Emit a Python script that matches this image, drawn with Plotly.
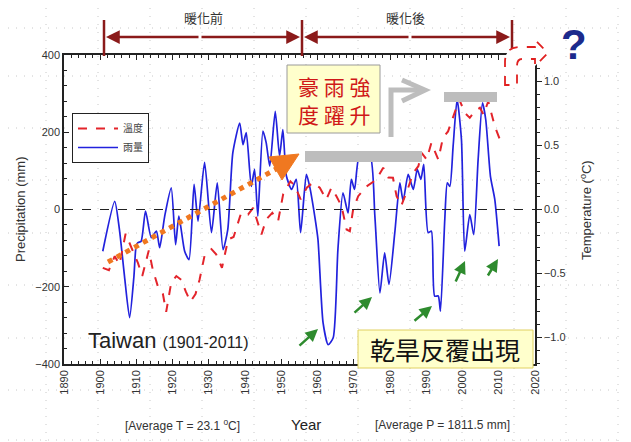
import plotly.graph_objects as go

# ---------------- data ----------------
rain_years = [1900.7, 1904.0, 1905.3, 1906.7, 1908.1, 1909.3, 1909.9, 1910.4, 1911.3, 1912.5,
              1914.1, 1915.5, 1916.4, 1917.8, 1919.6, 1920.8, 1921.7, 1923.3, 1924.5, 1925.9,
              1927.0, 1928.8, 1930.7, 1932.3, 1933.9, 1935.2, 1936.6, 1938.5, 1939.4, 1940.3,
              1941.7, 1942.6, 1943.5, 1944.9, 1945.8, 1946.8, 1948.3, 1949.5, 1950.4, 1951.4,
              1952.8, 1954.1, 1955.3, 1956.9, 1957.8, 1959.2, 1960.1, 1961.5, 1962.9, 1964.3,
              1965.6, 1967.0, 1968.4, 1969.3, 1970.2, 1971.6, 1974.4, 1975.8, 1977.2, 1978.5,
              1979.7, 1981.3, 1982.7, 1983.6, 1985.0, 1986.4, 1987.5, 1988.5, 1989.3, 1990.5,
              1991.4, 1992.3, 1993.3, 1993.9, 1995.1, 1995.8, 1996.5, 1997.4, 1998.5, 1999.7,
              2000.6, 2002.0, 2003.1, 2004.3, 2005.5, 2006.4, 2007.7, 2008.9, 2010.1]
rain_vals = [-108, 21, -52, -173, -280, -173, -95, -86, -82, -4,
             -73, -56, -99, -17, 56, -91, -17, -108, -130, 65,
             -30, 122, -60, 69, -104, -52, 147, 224, 168, 199,
             60, 104, -17, 203, 173, 112, 254, 138, 207, 86,
             52, 78, -60, 91, 60, -17, -78, -293, -350, -332,
             -104, 43, -9, 78, 52, 142, 142, -17, -216, -112,
             -194, -60, 69, 22, 91, 52, 104, 78, 117, -60,
             -56, -224, -224, -263, -26, 69, 60, 164, 285, 181,
             -108, -13, -65, 129, 276, 233, 86, 26, -95]

temp_years = [1900.7, 1902.4, 1904.0, 1905.3, 1907.0, 1908.6, 1910.4, 1911.6, 1913.4, 1914.5,
              1915.9, 1917.3, 1918.2, 1919.6, 1921.0, 1922.4, 1923.6, 1924.9, 1926.3, 1927.4,
              1928.8, 1930.7, 1932.0, 1933.6, 1935.3, 1936.8, 1938.9, 1940.8, 1942.2, 1944.5,
              1945.8, 1947.5, 1949.1, 1950.5, 1952.5, 1953.6, 1955.3, 1957.0, 1958.7, 1960.6,
              1962.4, 1963.8, 1965.2, 1966.6, 1968.0, 1968.9, 1969.8, 1971.2, 1973.5, 1976.2,
              1978.1, 1979.5, 1980.8, 1981.8, 1983.1, 1985.0, 1986.4, 1987.8, 1988.7, 1990.1,
              1991.4, 1993.3, 1994.6, 1996.0, 1997.9, 1999.1, 2000.6, 2002.0, 2003.4, 2004.8,
              2005.8, 2007.1, 2008.9, 2010.3]
temp_vals = [-0.456, -0.474, -0.365, -0.43, -0.19, -0.30, -0.417, -0.52, -0.32, -0.47,
             -0.60, -0.66, -0.80, -0.57, -0.52, -0.55, -0.64, -0.72, -0.66, -0.55,
             -0.36, -0.31, -0.35, -0.456, -0.234, -0.215, -0.026, -0.04, 0.013, -0.195,
             -0.078, -0.026, -0.09, 0.12, 0.22, 0.19, 0.08, 0.17, 0.21, 0.17,
             0.078, 0.17, 0.104, 0.026, -0.156, -0.17, 0.0, 0.104, 0.18, 0.234,
             0.326, 0.25, 0.248, 0.104, 0.03, 0.17, 0.287, 0.338, 0.443, 0.39,
             0.52, 0.39, 0.56, 0.61, 0.755, 0.86, 0.755, 0.716, 0.768, 0.795,
             0.74, 0.846, 0.65, 0.547]

x_ticks = list(range(1890, 2021, 10))
left_ticks = [-400, -200, 0, 200, 400]
right_ticks = [-1.0, -0.5, 0.0, 0.5, 1.0]

# ---------------- layout helpers (reference-pixel coordinates) ----------------
W, H = 631, 442
OFF = 8                      # page body margin
L, R, T, B = 64, 535, 55, 364


def px(x):
    return (x - L) / (R - L)


def py(y):
    return (B - y) / (B - T)


def p(x, y):
    return f"{px(x):.5f},{py(y):.5f}"


CJK = "Noto Sans CJK TC"
LAT = "Liberation Sans, Arial, sans-serif"

fig = go.Figure()
fig.add_trace(go.Scatter(x=temp_years, y=temp_vals, yaxis="y2", name="溫度", mode="lines",
                         line=dict(color="#E3242B", width=2, dash="dash")))
fig.add_trace(go.Scatter(x=rain_years, y=rain_vals, name="雨量", mode="lines",
                         line=dict(color="#2222DD", width=1.7, shape="spline", smoothing=0.6)))

shapes = []
ann = []


def text(x, y, s, size, color="#333333", family=LAT, **kw):
    d = dict(xref="paper", yref="paper", x=px(x), y=py(y), text=s, showarrow=False,
             xanchor="center", yanchor="middle", font=dict(family=family, size=size, color=color))
    d.update(kw)
    ann.append(d)


# background dotted slide grid
for gy in [28, 76, 128, 180, 233, 285, 338, 390, 440]:
    shapes.append(dict(type="line", xref="paper", yref="paper", x0=px(OFF), x1=px(W), y0=py(gy), y1=py(gy),
                       line=dict(color="#C8C8C8", width=1, dash="1px,7px"), layer="below"))
for gx in [46, 98, 150, 202, 254, 306, 358, 410, 462, 514, 566, 618]:
    shapes.append(dict(type="line", xref="paper", yref="paper", x0=px(gx), x1=px(gx), y0=py(OFF), y1=py(H),
                       line=dict(color="#C8C8C8", width=1, dash="1px,7px"), layer="below"))

# zero dashed line
shapes.append(dict(type="line", xref="paper", yref="y", x0=0, x1=1, y0=0, y1=0,
                   line=dict(color="#222222", width=1.2, dash="dash")))

# top double arrows
DR = "#8B1A1A"
for bx in [104, 302, 512]:
    shapes.append(dict(type="line", xref="paper", yref="paper", x0=px(bx), x1=px(bx), y0=py(20), y1=py(56),
                       line=dict(color=DR, width=2.5)))
for (tip, tail) in [(106, 200), (300, 200), (304, 410), (510, 410)]:
    ann.append(dict(xref="paper", yref="paper", x=px(tip), y=py(37), ax=tail - tip, ay=0, text="",
                    showarrow=True, arrowhead=2, arrowsize=1.1, arrowwidth=2.5, arrowcolor=DR))
text(203, 18, "暖化前", 13, family=CJK)
text(405, 18, "暖化後", 13, family=CJK)

# red dashed bent arrow (top right)
path = (f"M {p(505,85)} L {p(505,62)} Q {p(505,47)} {p(520,47)} L {p(535,47)} L {p(535,40)} "
        f"L {p(548,53)} L {p(535,66)} L {p(535,59)} L {p(522,59)} Q {p(517,59)} {p(517,66)} L {p(517,85)} Z")
shapes.append(dict(type="path", xref="paper", yref="paper", path=path, fillcolor="white",
                   line=dict(color="#E02020", width=1.8, dash="dash")))
text(574, 45, "<b>?</b>", 42, color="#1C2A8C")

# gray bars and gray L arrow
shapes.append(dict(type="rect", xref="paper", yref="paper", x0=px(305), x1=px(422), y0=py(151), y1=py(162),
                   fillcolor="#BDBDBD", line=dict(width=0)))
shapes.append(dict(type="rect", xref="paper", yref="paper", x0=px(444), x1=px(497), y0=py(92), y1=py(102),
                   fillcolor="#BDBDBD", line=dict(width=0)))
shapes.append(dict(type="path", xref="paper", yref="paper",
                   path=f"M {p(391,137)} L {p(391,90)} L {p(424,90)}",
                   line=dict(color="#BDBDBD", width=5)))
shapes.append(dict(type="path", xref="paper", yref="paper",
                   path=f"M {p(402,80)} L {p(425,90)} L {p(402,101)}",
                   line=dict(color="#BDBDBD", width=5)))

# orange dotted arrow
shapes.append(dict(type="line", xref="paper", yref="paper", x0=px(108), y0=py(262), x1=px(278), y1=py(168),
                   line=dict(color="#F07820", width=5, dash="dot")))
shapes.append(dict(type="path", xref="paper", yref="paper",
                   path=f"M {p(299,154)} L {p(269,157)} L {p(282,180)} Z",
                   fillcolor="#F07820", line=dict(color="#F07820", width=1)))

# green arrows
for (x0, y0, x1, y1) in [(298, 347, 318, 329), (353, 314, 372, 297), (413, 322, 432, 306),
                         (455, 283, 465, 261), (487, 277, 498, 259)]:
    ann.append(dict(xref="paper", yref="paper", x=px(x1), y=py(y1), ax=x0 - x1, ay=y0 - y1, text="",
                    showarrow=True, arrowhead=2, arrowsize=1, arrowwidth=2.5, arrowcolor="#2E8B2E"))

# yellow boxes
shapes.append(dict(type="rect", xref="paper", yref="paper", x0=px(287), x1=px(380), y0=py(65), y1=py(133),
                   fillcolor="#FFFFCC", line=dict(color="#9A9A9A", width=1)))
text(334, 86, "豪 雨 強", 21, color="#D01818", family=CJK)
text(334, 114, "度 躍 升", 21, color="#D01818", family=CJK)
shapes.append(dict(type="rect", xref="paper", yref="paper", x0=px(358), x1=px(533), y0=py(330), y1=py(368),
                   fillcolor="#FFFFCC", line=dict(color="#E0D060", width=1)))
text(445, 349, "乾旱反覆出現", 25, color="#111111", family=CJK)

# texts
text(86, 340, "Taiwan <span style='font-size:16px'>(1901-2011)</span>", 22, color="#222222", xanchor="left")
text(182, 425, "[Average T = 23.1 <sup>o</sup>C]", 12)
text(306, 424, "Year", 15, color="#222222")
text(442, 425, "[Average P = 1811.5 mm]", 12)
text(21, 210, "Precipitation (mm)", 13, textangle=-90)
text(586, 210, "Temperature (<sup>o</sup>C)", 13, textangle=-90)

fig.update_layout(
    width=W - OFF, height=H - OFF,
    margin=dict(l=L - OFF, r=W - R, t=T - OFF, b=H - B, autoexpand=False),
    paper_bgcolor="white", plot_bgcolor="rgba(0,0,0,0)",
    font=dict(family=LAT, size=11, color="#333333"),
    showlegend=True,
    legend=dict(x=px(72), y=py(113), xanchor="left", yanchor="top", bgcolor="white",
                bordercolor="#222222", borderwidth=1, font=dict(family=CJK, size=10, color="#444444"),
                itemwidth=40, tracegroupgap=0),
    xaxis=dict(range=[1890, 2020], tickvals=x_ticks, tickangle=-90, ticks="inside", ticklen=5,
               tickcolor="#222222", showline=True, linecolor="#222222", linewidth=1.5, mirror="ticks",
               showgrid=False, zeroline=False, minor=dict(dtick=2, ticks="inside", ticklen=3, tickcolor="#222222"),
               tickfont=dict(size=11, color="#333333")),
    yaxis=dict(range=[-400, 400], tickvals=left_ticks, ticks="inside", ticklen=5, tickcolor="#222222",
               showline=True, linecolor="#222222", linewidth=1.5, showgrid=False, zeroline=False,
               minor=dict(dtick=40, ticks="inside", ticklen=3, tickcolor="#222222"),
               tickfont=dict(size=11, color="#333333")),
    yaxis2=dict(range=[-1.207, 1.207], overlaying="y", side="right", tickvals=right_ticks, tickformat=".1f",
                ticks="outside", ticklen=5, tickcolor="#222222", showline=True, linecolor="#222222",
                linewidth=1.5, showgrid=False, zeroline=False,
                minor=dict(dtick=0.1, ticks="outside", ticklen=3, tickcolor="#222222"),
                tickfont=dict(size=11, color="#333333")),
    shapes=shapes, annotations=ann,
)

fig.write_html("out.html")
